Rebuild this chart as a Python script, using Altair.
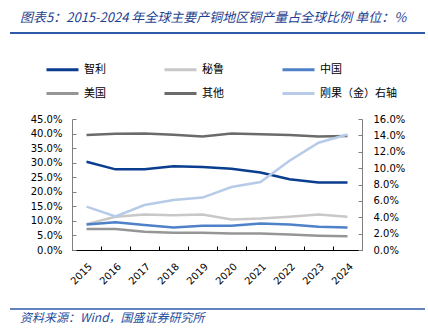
import altair as alt
import pandas as pd

years = [str(y) for y in range(2015, 2025)]
chile = [30.3, 27.7, 27.7, 28.8, 28.5, 27.9, 26.6, 24.3, 23.2, 23.2]
peru = [8.9, 11.4, 12.2, 11.9, 12.2, 10.5, 10.8, 11.4, 12.2, 11.4]
china = [8.8, 9.5, 8.6, 7.7, 8.3, 8.3, 9.1, 8.8, 8.0, 7.7]
usa = [7.2, 7.2, 6.3, 5.9, 5.9, 5.7, 5.7, 5.3, 4.9, 4.7]
other = [39.5, 39.9, 40.0, 39.6, 39.0, 40.0, 39.8, 39.5, 39.0, 39.2]
drc = [5.3, 4.1, 5.5, 6.1, 6.4, 7.7, 8.3, 10.9, 13.1, 14.1]

names = ["智利", "秘鲁", "中国", "美国", "其他", "刚果（金）右轴"]
colors = ["#0a3d8f", "#c8c8c8", "#4f81c9", "#969696", "#6b6b6b", "#b7cbe8"]
left_ticks = [0, 5, 10, 15, 20, 25, 30, 35, 40, 45]
right_ticks = [0, 2, 4, 6, 8, 10, 12, 14, 16]

TITLE = "图表5：2015-2024 年全球主要产铜地区铜产量占全球比例 单位：%"
SOURCE = "资料来源：Wind，国盛证券研究所"

rows_left = []
for name, vals in zip(names[:5], [chile, peru, china, usa, other]):
    for y, v in zip(years, vals):
        rows_left.append({"year": y, "series": name, "value": v})
df_left = pd.DataFrame(rows_left)
df_right = pd.DataFrame({"year": years, "series": names[5], "value": drc})

FONT = "DejaVu Sans"
CJK = "Noto Sans CJK SC"

x_enc = alt.X(
    "year:O",
    scale=alt.Scale(type="band", paddingInner=0, paddingOuter=0),
    axis=alt.Axis(
        title=None, labelAngle=315, tickBand="extent",
        tickSize=alt.ExprRef(expr="-4"), labelPadding=15,
        domainColor="#000000", tickColor="#000000",
        labelFont=FONT, labelFontSize=10, labelColor="#000000",
    ),
)

color_enc = alt.Color(
    "series:N",
    scale=alt.Scale(domain=names, range=colors),
    legend=alt.Legend(
        title=None, orient="none", direction="horizontal",
        legendX=-27, legendY=-67, columns=3,
        columnPadding=52, rowPadding=-8, symbolType="stroke", symbolSize=1024,
        symbolStrokeWidth=3, labelFont=CJK, labelFontSize=11, labelOffset=4,
        labelColor="#000000", padding=0,
    ),
)

left = alt.Chart(df_left).mark_line(strokeWidth=2.5).encode(
    x=x_enc,
    y=alt.Y(
        "value:Q",
        scale=alt.Scale(domain=[0, 45]),
        axis=alt.Axis(
            title=None, values=left_ticks, grid=False,
            labelExpr="format(datum.value, '.1f') + '%'",
            tickSize=alt.ExprRef(expr="-4"), labelPadding=14,
            domainColor="#808080", tickColor="#808080",
            labelFont=FONT, labelFontSize=10, labelColor="#000000",
        ),
    ),
    color=color_enc,
)

right = alt.Chart(df_right).mark_line(strokeWidth=2.5).encode(
    x=x_enc,
    y=alt.Y(
        "value:Q",
        scale=alt.Scale(domain=[0, 16]),
        axis=alt.Axis(
            title=None, orient="right", values=right_ticks, grid=False,
            labelExpr="format(datum.value, '.1f') + '%'",
            tickSize=alt.ExprRef(expr="-4"), labelPadding=15,
            domainColor="#808080", tickColor="#808080",
            labelFont=FONT, labelFontSize=10, labelColor="#000000",
        ),
    ),
    color=color_enc,
)

one = alt.Data(values=[{}])
title_text = alt.Chart(one).mark_text(
    text=TITLE, align="left", baseline="middle", font=CJK, fontSize=13,
    fontStyle="italic", color="#1f3f8f",
).encode(x=alt.value(-52), y=alt.value(-101))
title_rule = alt.Chart(one).mark_rule(color="#2e5aa8", strokeWidth=2).encode(
    x=alt.value(-62), x2=alt.value(353), y=alt.value(-86)
)
src_text = alt.Chart(one).mark_text(
    text=SOURCE, align="left", baseline="middle", font=CJK, fontSize=12,
    fontStyle="italic", color="#1f4e9c",
).encode(x=alt.value(-52), y=alt.value(199))
src_rule = alt.Chart(one).mark_rule(color="#2e5aa8", strokeWidth=1.5).encode(
    x=alt.value(-62), x2=alt.value(353), y=alt.value(190)
)

chart = (
    alt.layer(left, right, title_text, title_rule, src_text, src_rule)
    .resolve_scale(y="independent")
    .properties(
        width=290, height=131,
        autosize=alt.AutoSizeParams(type="none"),
        padding={"left": 72, "top": 119, "right": 66, "bottom": 82},
    )
    .configure_view(stroke=None)
)

chart.save("out.html", embed_options={"renderer": "svg", "actions": False})
